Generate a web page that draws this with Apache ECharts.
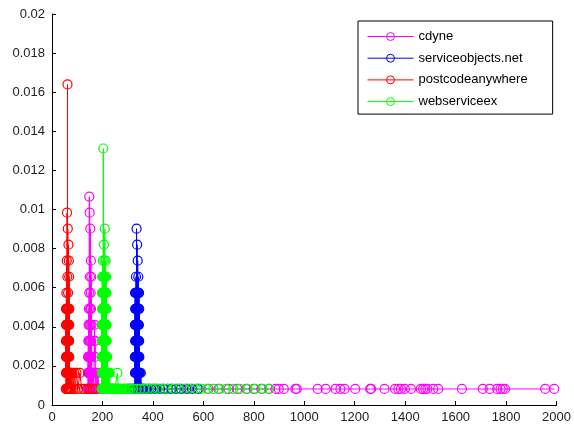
<!DOCTYPE html>
<html>
<head>
<meta charset="utf-8">
<script src="https://cdn.jsdelivr.net/npm/echarts@6/dist/echarts.min.js"></script>
<style>
  html, body { margin: 0; padding: 0; background: #fff; }
  #graph1 { width: 574px; height: 430px; }
</style>
</head>
<body>
<div id="graph1"></div>
<script>
// tick labels
var xTicks = [0, 200, 400, 600, 800, 1000, 1200, 1400, 1600, 1800, 2000];
var yTicks = [0, 0.002, 0.004, 0.006, 0.008, 0.01, 0.012, 0.014, 0.016, 0.018, 0.02];

var seriesNames = ['cdyne', 'serviceobjects.net', 'postcodeanywhere', 'webserviceex'];

// [time, probability]
var cdyne = [
    [143.00, .00082], [143.25, .00246], [143.50, .00164], [143.75, .00082], [144.00, .00328], [144.25, .00164],
    [144.50, .00246], [144.75, .00082], [145.00, .0041], [145.25, .00164], [145.50, .00246], [145.75, .00082],
    [146.00, .00492], [146.25, .00164], [146.50, .00328], [146.75, .00246], [147.00, .00082], [147.25, .00574],
    [147.50, .00164], [147.75, .00246], [148.00, .01066], [148.25, .00082], [148.50, .0041], [148.75, .00164],
    [149.00, .00246], [149.25, .00984], [149.50, .00082], [149.75, .00328], [150.00, .00164], [150.25, .00656],
    [150.50, .00246], [150.75, .00082], [151.00, .00492], [151.25, .00164], [151.50, .00246], [151.75, .00902],
    [152.00, .00082], [152.25, .0041], [152.50, .00164], [152.75, .00328], [153.00, .00246], [153.25, .00082],
    [153.50, .00574], [153.75, .00164], [154.00, .00246], [154.25, .00738], [154.50, .00082], [154.75, .00492],
    [155.00, .00164], [155.25, .00246], [155.50, .00082], [155.75, .00656], [156.00, .00164], [156.25, .00328],
    [156.50, .00246], [156.75, .00082], [157.00, .0041], [157.25, .00164], [157.50, .00082],
    [160, .00164], [162, .00082], [164, .00164], [166, .00082], [168, .00328], [169, .0041],
    [170, .00246], [171, .00328], [172, .00164], [174, .00082], [176, .00164], [179, .00082],
    [182, .00164], [186, .00082], [190, .00082], [195, .00082], [205, .00082], [220, .00082],
    [240, .00082], [262, .00082], [285, .00082], [310, .00082], [338, .00082], [360, .00082],
    [385, .00082], [410, .00082], [440, .00082], [470, .00082], [505, .00082], [540, .00082],
    [580, .00082], [620, .00082], [660, .00082], [700, .00082], [735, .00082], [770, .00082],
    [800, .00082], [830, .00082], [860, .00082], [886, .00082], [899, .00082], [919, .00082],
    [965, .00082], [970, .00082], [1053, .00082], [1085, .00082], [1124, .00082], [1143, .00082],
    [1160, .00082], [1202, .00082], [1261, .00082], [1265, .00082], [1318, .00082], [1360, .00082],
    [1373, .00082], [1383, .00082], [1399, .00082], [1423, .00082], [1462, .00082], [1471, .00082],
    [1480, .00082], [1488, .00082], [1511, .00082], [1531, .00082], [1625, .00082], [1708, .00082],
    [1735, .00082], [1765, .00082], [1778, .00082], [1787, .00082], [1796, .00082], [1955, .00082],
    [1991, .00082]
];

var serviceobjects = [
    [300, .00082], [308, .00082], [315, .00082], [320, .00082], [324, .00082],
    [328.0, .00082], [328.3, .00246], [328.6, .0041], [328.9, .00164], [329.2, .00574], [329.5, .00328],
    [329.8, .00492], [330.1, .00082], [330.4, .00246], [330.7, .0041], [331.0, .00164], [331.3, .00492],
    [331.6, .00328], [331.9, .00574], [332.2, .00082], [332.5, .00246], [332.8, .00656], [333.1, .0041],
    [333.4, .00164], [333.7, .00492], [334.0, .00328], [334.3, .00082], [334.6, .00574], [334.9, .00246],
    [335.2, .00902], [335.5, .0041], [335.8, .00164], [336.1, .00492], [336.4, .00328], [336.7, .00082],
    [337.0, .00246], [337.3, .0082], [337.6, .00574], [337.9, .0041], [338.2, .00164], [338.5, .00328],
    [338.8, .00492], [339.1, .00082], [339.4, .00246], [339.7, .00738], [340.0, .0041], [340.3, .00574],
    [340.6, .00164], [340.9, .00328], [341.2, .00492], [341.5, .00082], [341.8, .00246], [342.1, .00656],
    [342.4, .0041], [342.7, .00164], [343.0, .00574], [343.3, .00328], [343.6, .00492], [343.9, .00082],
    [344.2, .00246], [344.5, .0041], [344.8, .00164], [345.1, .00574], [345.4, .00328], [345.7, .00492],
    [346.0, .00082], [346.3, .00246], [346.6, .00164],
    [348, .00164], [350, .00082], [352, .00164], [355, .00082], [360, .00082], [366, .00082],
    [374, .00082], [383, .00082], [392, .00082], [402, .00082], [414, .00082], [428, .00082],
    [442, .00082], [458, .00082], [475, .00082], [492, .00082], [512, .00082], [532, .00082],
    [555, .00082], [578, .00082]
];

var postcodeanywhere = [
    [55.0, .00082], [55.2, .00328], [55.4, .00164], [55.6, .0041], [55.8, .00246], [56.0, .00492],
    [56.2, .00164], [56.4, .00492], [56.6, .00082], [56.8, .00328], [57.0, .00574], [57.2, .00246],
    [57.4, .0041], [57.6, .00246], [57.8, .0041], [58.0, .00082], [58.2, .00492], [58.4, .00164],
    [58.6, .00738], [58.8, .00328], [59.0, .00082], [59.2, .00492], [59.4, .00246], [59.6, .00984],
    [59.8, .00164], [60.0, .0041], [60.2, .00328], [60.4, .00328], [60.6, .00164], [60.8, .00656],
    [61.0, .00492], [61.2, .00082], [61.4, .0164], [61.6, .00246], [61.8, .0041], [62.0, .00164],
    [62.2, .0041], [62.4, .00082], [62.6, .00902], [62.8, .00328], [63.0, .00492], [63.2, .00246],
    [63.4, .0041], [63.6, .00082], [63.8, .00574], [64.0, .00246], [64.2, .00492], [64.4, .00164],
    [64.6, .00328], [64.8, .00492], [65.0, .00246], [65.2, .0082], [65.4, .00082], [65.6, .0041],
    [65.8, .00164], [66.0, .00328], [66.2, .00246], [66.4, .00082], [66.6, .00738], [66.8, .0041],
    [67.0, .00164], [67.2, .00492], [67.4, .00328], [67.6, .00082], [67.8, .00328], [68.0, .00656],
    [68.2, .00164], [68.4, .0041], [68.6, .00246], [68.8, .00492], [69.0, .00082],
    [70, .00164], [71, .00082], [72.5, .00164], [74, .00082], [76, .00164], [78, .00082],
    [81, .00164], [84, .00082], [88, .00164], [92, .00082], [97, .00164], [103, .00082],
    [110, .00164], [118, .00082], [127, .00082], [138, .00082], [150, .00082], [162, .00082],
    [172, .00082]
];

var webserviceex = [
    [197.00, .00082], [197.25, .00246], [197.50, .0041], [197.75, .00164], [198.00, .00574], [198.25, .00328],
    [198.50, .00492], [198.75, .00082], [199.00, .00656], [199.25, .00246], [199.50, .0041], [199.75, .00164],
    [200.00, .00492], [200.25, .00328], [200.50, .00574], [200.75, .00082], [201.00, .00246], [201.25, .00738],
    [201.50, .0041], [201.75, .00164], [202.00, .00656], [202.25, .00328], [202.50, .00492], [202.75, .00082],
    [203.00, .00574], [203.25, .00246], [203.50, .01312], [203.75, .0041], [204.00, .00164], [204.25, .00656],
    [204.50, .00328], [204.75, .00492], [205.00, .00082], [205.25, .00246], [205.50, .00574], [205.75, .0082],
    [206.00, .0041], [206.25, .00164], [206.50, .00328], [206.75, .00656], [207.00, .00492], [207.25, .00082],
    [207.50, .00246], [207.75, .00738], [208.00, .0041], [208.25, .00574], [208.50, .00164], [208.75, .00328],
    [209.00, .00492], [209.25, .00902], [209.50, .00082], [209.75, .00656], [210.00, .00246], [210.25, .0041],
    [210.50, .00164], [210.75, .00574], [211.00, .00328], [211.25, .00492], [211.50, .00082], [211.75, .00246],
    [212.00, .00656], [212.25, .0041], [212.50, .00164], [212.75, .00738], [213.00, .00328], [213.25, .00492],
    [213.50, .00574], [213.75, .00082], [214.00, .00246], [214.25, .0041], [214.50, .00164], [214.75, .00656],
    [215.00, .00328], [215.25, .00492], [215.50, .00082], [215.75, .00574], [216.00, .00246], [216.25, .0041],
    [216.50, .00164], [216.75, .00328], [217.00, .00082],
    [218, .00164], [219, .00246], [220, .00082], [221, .00082], [222, .00164], [223, .00082],
    [224, .00164], [225, .00082], [226, .00164], [227, .00082], [229, .00164], [230, .00082],
    [232, .00082], [234, .00082], [236, .00082], [238, .00082], [240, .00082], [242, .00082],
    [245, .00082], [247, .00082], [250, .00082], [252, .00082], [255, .00082], [257, .00082],
    [259, .00164], [263, .00082], [266, .00082], [270, .00082], [274, .00082], [278, .00082],
    [283, .00082], [288, .00082], [293, .00082], [298, .00082], [304, .00082], [310, .00082],
    [322, .00082], [336, .00082], [350, .00082], [366, .00082], [382, .00082], [400, .00082],
    [418, .00082], [438, .00082], [458, .00082], [480, .00082], [502, .00082], [525, .00082],
    [548, .00082], [570, .00082], [592, .00082], [615, .00082], [640, .00082], [665, .00082],
    [690, .00082], [718, .00082], [745, .00082], [775, .00082], [805, .00082], [835, .00082],
    [860, .00082]
];

var seriesData = [cdyne, serviceobjects, postcodeanywhere, webserviceex];
var seriesColors = ['#ff00ff', '#0000ff', '#ff0000', '#00ff00'];

var font = 'Liberation Sans, Arial, sans-serif';

// hollow circles without a white fill, like matlab 'o' markers
var series = [];
var legendData = [];
for (var i = 0; i < seriesNames.length; i++) {
    series.push({
        name: seriesNames[i],
        type: 'line',
        data: seriesData[i],
        symbol: 'circle',
        symbolSize: 9,
        showAllSymbol: true,
        color: seriesColors[i],
        lineStyle: { width: 1, color: seriesColors[i] },
        itemStyle: { color: 'rgba(0,0,0,0)', borderColor: seriesColors[i], borderWidth: 1.2 },
        emphasis: { disabled: true }
    });
    legendData.push({
        name: seriesNames[i],
        lineStyle: { color: seriesColors[i], width: 1 },
        itemStyle: { color: 'rgba(0,0,0,0)', borderColor: seriesColors[i], borderWidth: 1 }
    });
}

var option = {
    animation: false,
    backgroundColor: '#fff',
    grid: { left: 52, right: 15, top: 14, bottom: 25, containLabel: false },
    legend: {
        data: legendData,
        orient: 'vertical',
        left: 358,
        top: 21,
        padding: [9, 25, 6, 9],
        itemWidth: 46,
        itemHeight: 10,
        itemGap: 8.7,
        backgroundColor: '#fff',
        borderColor: '#000',
        borderWidth: 1,
        borderRadius: 0,
        textStyle: { fontFamily: font, fontSize: 13, color: '#000' }
    },
    xAxis: {
        type: 'value',
        min: xTicks[0],
        max: xTicks[xTicks.length - 1],
        interval: 200,
        splitLine: { show: false },
        axisLine: { lineStyle: { color: '#000', width: 1 } },
        axisTick: { inside: true, length: 4, lineStyle: { color: '#000' } },
        axisLabel: {
            fontFamily: font, fontSize: 13, color: '#222', margin: 6,
            formatter: function (v) { return String(v); }
        }
    },
    yAxis: {
        type: 'value',
        min: yTicks[0],
        max: yTicks[yTicks.length - 1],
        interval: 0.002,
        splitLine: { show: false },
        axisLine: { show: true, lineStyle: { color: '#000', width: 1 } },
        axisTick: { show: true, inside: true, length: 4, lineStyle: { color: '#000' } },
        axisLabel: {
            fontFamily: font, fontSize: 13, color: '#222', margin: 7,
            formatter: function (v) { return String(+v.toFixed(3)); }
        }
    },
    series: series
};

var myChart = echarts.init(document.getElementById('graph1'));
myChart.setOption(option);
</script>
</body>
</html>
